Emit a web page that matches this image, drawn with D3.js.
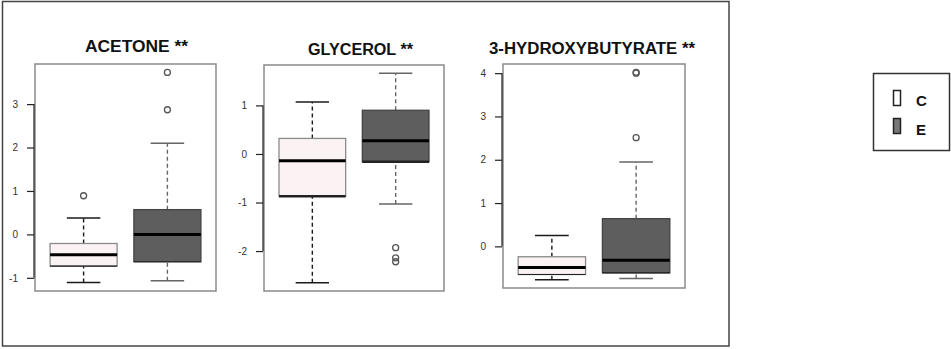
<!DOCTYPE html>
<html>
<head>
<meta charset="utf-8">
<script src="https://cdn.jsdelivr.net/npm/d3@7"></script>
<style>
  html, body { margin: 0; padding: 0; background: #fff; }
  svg { display: block; }
  .tick text { font-family: "Liberation Sans", Arial, sans-serif; }
</style>
</head>
<body>
<svg id="chart" width="951" height="349"></svg>
<script>
var groups = ['C', 'E'];
var titles = ['ACETONE **', 'GLYCEROL **', '3-HYDROXYBUTYRATE **'];

// [lower whisker, Q1, median, Q3, upper whisker] for C then E
var acetoneBoxes = [[-1.11, -0.73, -0.47, -0.21, 0.38], [-1.07, -0.63, 0.00, 0.57, 2.10]];
var acetoneOutliers = [[0.89], [2.87, 3.73]];
var glycerolBoxes = [[-2.65, -0.87, -0.14, 0.32, 1.07], [-1.03, -0.16, 0.27, 0.90, 1.66]];
var glycerolOutliers = [[], [-1.93, -2.14, -2.22]];
var hydroxyBoxes = [[-0.77, -0.65, -0.49, -0.24, 0.25], [-0.74, -0.61, -0.32, 0.64, 1.95]];
var hydroxyOutliers = [[], [2.51, 4.00, 4.02]];

var acetoneTicks = [-1, 0, 1, 2, 3];
var glycerolTicks = [-2, -1, 0, 1];
var hydroxyTicks = [0, 1, 2, 3, 4];

var boxSets = [acetoneBoxes, glycerolBoxes, hydroxyBoxes];
var outlierSets = [acetoneOutliers, glycerolOutliers, hydroxyOutliers];
var tickSets = [acetoneTicks, glycerolTicks, hydroxyTicks];

// plot frames and title placement, in pixels
var layout = [
  {x0: 35, x1: 216, y0: 64, y1: 291, tx: 136.5, ty: 52, tw: 103},
  {x0: 264, x1: 444, y0: 65, y1: 291, tx: 360.5, ty: 55, tw: 105},
  {x0: 503, x1: 685, y0: 64, y1: 288, tx: 592, ty: 54, tw: 206}
];

var boxFill = {C: '#fbf3f3', E: '#5e5e5e'};
var boxEdge = {C: '#8a8a8a', E: '#444'};
var whiskerColor = {C: '#1a1a1a', E: '#666'};

var svg = d3.select('#chart');

// outer frame
svg.append('rect').attr('x', 2.5).attr('y', 1.5).attr('width', 726.5).attr('height', 344.5)
  .style('fill', 'none').style('stroke', '#444').style('stroke-width', 1.5);

layout.forEach(function(L, i) {
  var boxes = boxSets[i], outliers = outlierSets[i], ticks = tickSets[i];
  var all = [];
  boxes.forEach(function(b) { all = all.concat(b); });
  outliers.forEach(function(o) { all = all.concat(o); });
  var ext = d3.extent(all), pad = (ext[1] - ext[0]) * 0.04;

  var y = d3.scaleLinear().domain([ext[0] - pad, ext[1] + pad]).range([L.y1, L.y0]);
  var x = d3.scaleLinear().domain([0.42, 2.58]).range([L.x0, L.x1]);
  var halfBox = (x(1.4) - x(1)), halfCap = (x(1.2) - x(1));

  var g = svg.append('g').attr('class', 'panel');

  g.append('text').attr('x', L.tx).attr('y', L.ty).attr('text-anchor', 'middle')
    .attr('textLength', L.tw).attr('lengthAdjust', 'spacingAndGlyphs')
    .style('font-family', '"Liberation Sans", Arial, sans-serif').style('font-weight', 'bold')
    .style('font-size', '16px').style('fill', '#111').text(titles[i]);

  boxes.forEach(function(b, j) {
    var grp = groups[j], cx = x(j + 1);
    var wg = g.append('g');
    // whiskers
    wg.selectAll('line.whisker').data([[b[0], b[1]], [b[3], b[4]]]).enter().append('line')
      .attr('class', 'whisker').attr('x1', cx).attr('x2', cx)
      .attr('y1', function(d) { return y(d[0]); }).attr('y2', function(d) { return y(d[1]); })
      .style('stroke', whiskerColor[grp]).style('stroke-width', 1.4).style('stroke-dasharray', '4,3');
    wg.selectAll('line.cap').data([b[0], b[4]]).enter().append('line')
      .attr('class', 'cap').attr('x1', cx - halfCap).attr('x2', cx + halfCap)
      .attr('y1', function(d) { return y(d); }).attr('y2', function(d) { return y(d); })
      .style('stroke', whiskerColor[grp]).style('stroke-width', 1.5);
    // box
    wg.append('rect').attr('x', cx - halfBox).attr('width', halfBox * 2)
      .attr('y', y(b[3])).attr('height', y(b[1]) - y(b[3]))
      .style('fill', boxFill[grp]).style('stroke', boxEdge[grp]).style('stroke-width', 1.3);
    wg.append('line').attr('x1', cx - halfBox).attr('x2', cx + halfBox)
      .attr('y1', y(b[1])).attr('y2', y(b[1]))
      .style('stroke', '#222').style('stroke-width', i === 1 ? 2.5 : 1.2);
    // median
    wg.append('line').attr('x1', cx - halfBox).attr('x2', cx + halfBox)
      .attr('y1', y(b[2])).attr('y2', y(b[2]))
      .style('stroke', '#000').style('stroke-width', 3);
    // outliers
    wg.selectAll('circle').data(outliers[j]).enter().append('circle')
      .attr('cx', cx).attr('cy', function(d) { return y(d); }).attr('r', 3)
      .style('fill', 'none').style('stroke', '#555').style('stroke-width', 1.3);
  });

  // frame
  g.append('rect').attr('x', L.x0).attr('y', L.y0).attr('width', L.x1 - L.x0).attr('height', L.y1 - L.y0)
    .style('fill', 'none').style('stroke', '#8a8a8a').style('stroke-width', 1.5);

  // y axis, line only between first and last tick
  var axis = d3.axisLeft(y).tickValues(ticks).tickSize(7).tickPadding(9)
    .tickFormat(function(d) { return String(d); });
  var ag = g.append('g').attr('transform', 'translate(' + (L.x0 - 1) + ',0)').call(axis);
  ag.select('.domain').remove();
  ag.selectAll('.tick line').style('stroke', '#222').style('stroke-width', 1.2);
  ag.selectAll('.tick text').style('font-size', '10px').style('fill', '#333');
  ag.append('line').attr('x1', 0).attr('x2', 0)
    .attr('y1', y(d3.min(ticks))).attr('y2', y(d3.max(ticks)))
    .style('stroke', '#222').style('stroke-width', 1.2);
});

// legend
var lg = svg.append('g').attr('class', 'legend');
lg.append('rect').attr('x', 873.5).attr('y', 73.5).attr('width', 76).attr('height', 77)
  .style('fill', '#fff').style('stroke', '#333').style('stroke-width', 1.5);
lg.selectAll('rect.key').data(groups).enter().append('rect').attr('class', 'key')
  .attr('x', 893.5).attr('y', function(d, k) { return 90.5 + k * 28; })
  .attr('width', 7).attr('height', 15)
  .style('fill', function(d) { return d === 'C' ? '#fff' : '#777'; })
  .style('stroke', '#222').style('stroke-width', 1.5);
lg.selectAll('text').data(groups).enter().append('text')
  .attr('x', 916).attr('y', function(d, k) { return 105.5 + k * 29.5; })
  .style('font-family', '"Liberation Sans", Arial, sans-serif').style('font-weight', 'bold')
  .style('font-size', '15px').style('fill', '#111').text(function(d) { return d; });
</script>
</body>
</html>
